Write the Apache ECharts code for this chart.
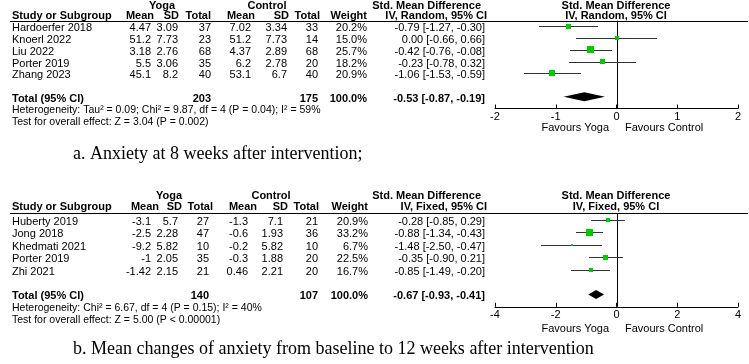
<!DOCTYPE html>
<html>
<head>
<meta charset="utf-8">
<script src="https://cdn.jsdelivr.net/npm/echarts@6/dist/echarts.min.js"></script>
<style>
html, body { margin: 0; padding: 0; background: #fff; }
#main { width: 749px; height: 364px; }
</style>
</head>
<body>
<div id="main"></div>
<script>
// ---- panel a : anxiety at 8 weeks (random effects) ----
var studiesA = ['Hardoerfer 2018', 'Knoerl 2022', 'Liu 2022', 'Porter 2019', 'Zhang 2023'];
var yogaMeanA = [4.47, 51.2, 3.18, 5.5, 45.1];
var yogaSdA = [3.09, 7.73, 2.76, 3.06, 8.2];
var yogaNA = [37, 23, 68, 35, 40];
var ctrlMeanA = [7.02, 51.2, 4.37, 6.2, 53.1];
var ctrlSdA = [3.34, 7.73, 2.89, 2.78, 6.7];
var ctrlNA = [33, 14, 68, 20, 40];
var weightA = [20.2, 15.0, 25.7, 18.2, 20.9];
var smdA = [-0.79, 0.00, -0.42, -0.23, -1.06];
var loA = [-1.27, -0.66, -0.76, -0.78, -1.53];
var hiA = [-0.30, 0.66, -0.08, 0.32, -0.59];
var totalNA = [203, 175];
var totalSmdA = [-0.53, -0.87, -0.19];
var axisA = [-2, 2, 1];
var methodA = 'IV, Random, 95% CI';
var hetA = 'Heterogeneity: Tau\u00b2 = 0.09; Chi\u00b2 = 9.87, df = 4 (P = 0.04); I\u00b2 = 59%';
var testA = 'Test for overall effect: Z = 3.04 (P = 0.002)';
var captionA = 'a. Anxiety at 8 weeks after intervention;';

// ---- panel b : change from baseline to 12 weeks (fixed effect) ----
var studiesB = ['Huberty 2019', 'Jong 2018', 'Khedmati 2021', 'Porter 2019', 'Zhi 2021'];
var yogaMeanB = [-3.1, -2.5, -9.2, -1, -1.42];
var yogaSdB = [5.7, 2.28, 5.82, 2.05, 2.15];
var yogaNB = [27, 47, 10, 35, 21];
var ctrlMeanB = [-1.3, -0.6, -0.2, -0.3, 0.46];
var ctrlSdB = [7.1, 1.93, 5.82, 1.88, 2.21];
var ctrlNB = [21, 36, 10, 20, 20];
var weightB = [20.9, 33.2, 6.7, 22.5, 16.7];
var smdB = [-0.28, -0.88, -1.48, -0.35, -0.85];
var loB = [-0.85, -1.34, -2.50, -0.90, -1.49];
var hiB = [0.29, -0.43, -0.47, 0.21, -0.20];
var totalNB = [140, 107];
var totalSmdB = [-0.67, -0.93, -0.41];
var axisB = [-4, 4, 2];
var methodB = 'IV, Fixed, 95% CI';
var hetB = 'Heterogeneity: Chi\u00b2 = 6.67, df = 4 (P = 0.15); I\u00b2 = 40%';
var testB = 'Test for overall effect: Z = 5.00 (P < 0.00001)';
var captionB = 'b. Mean changes of anxiety from baseline to 12 weeks after intervention';

// layout (pixels)
var layA = {
    rowTop: 26.3, step: 11.75, yMin: -0.48, yMax: 7,
    groupY: 5.5, headY: 16, lineY: 21, hetY: 110, testY: 122, favY: 128, capY: 154,
    yogaX: 162, ctrlX: 267,
    headX: [154, 179, 211, 255, 289, 320, 367],
    colX: [151, 178, 211, 251, 287, 318, 367, 485],
    sq: 0.27
};
var layB = {
    rowTop: 220, step: 12.4, yMin: -0.56, yMax: 7,
    groupY: 196, headY: 207, lineY: 213, hetY: 308, testY: 320.5, favY: 329, capY: 349,
    yogaX: 169, ctrlX: 271,
    headX: [159, 182, 213, 257, 288, 319, 368],
    colX: [151, 178, 209, 248, 283, 318, 368, 485],
    sq: 0.21
};

var plotLeft = 495, plotWidth = 243;
var SANS = '"Liberation Sans", Arial, sans-serif';

function txt(x, y, s, align, bold, size) {
    return {
        type: 'text', x: x, y: y, silent: true,
        style: {
            text: s, textAlign: align, textVerticalAlign: 'middle',
            font: (bold ? 'bold ' : '') + (size || 11) + 'px ' + SANS,
            fill: '#000'
        }
    };
}

function ci(e, l, h) {
    return e.toFixed(2) + ' [' + l.toFixed(2) + ', ' + h.toFixed(2) + ']';
}

var graphics = [];
var grids = [], xAxes = [], yAxes = [], series = [];

function buildPanel(idx, lay, d) {
    var rowY = function (i) { return lay.rowTop + i * lay.step + 2; };

    // header
    graphics.push(txt(lay.yogaX, lay.groupY, 'Yoga', 'center', true));
    graphics.push(txt(lay.ctrlX, lay.groupY, 'Control', 'center', true));
    graphics.push(txt(481, lay.groupY, 'Std. Mean Difference', 'right', true));
    graphics.push(txt(616, lay.groupY, 'Std. Mean Difference', 'center', true));
    graphics.push(txt(12, lay.headY, 'Study or Subgroup', 'left', true));
    var heads = ['Mean', 'SD', 'Total', 'Mean', 'SD', 'Total', 'Weight'];
    heads.forEach(function (h, k) {
        graphics.push(txt(lay.headX[k], lay.headY, h, 'right', true));
    });
    graphics.push(txt(487, lay.headY, d.method, 'right', true));
    graphics.push(txt(616, lay.headY, d.method, 'center', true));
    graphics.push({
        type: 'line', silent: true,
        shape: { x1: 10, y1: Math.floor(lay.lineY) + 0.5, x2: 748, y2: Math.floor(lay.lineY) + 0.5 },
        style: { stroke: '#000', lineWidth: 1 }
    });

    // study rows
    d.studies.forEach(function (name, i) {
        var y = rowY(i);
        var cells = [d.yMean[i], d.ySd[i], d.yN[i], d.cMean[i], d.cSd[i], d.cN[i]];
        graphics.push(txt(12, y, name, 'left', false));
        cells.forEach(function (v, k) {
            graphics.push(txt(lay.colX[k], y, String(v), 'right', false));
        });
        graphics.push(txt(lay.colX[6], y, d.weight[i].toFixed(1) + '%', 'right', false));
        graphics.push(txt(lay.colX[7], y, ci(d.smd[i], d.lo[i], d.hi[i]), 'right', false));
    });

    // total row
    var ty = rowY(6);
    graphics.push(txt(12, ty, 'Total (95% CI)', 'left', true));
    graphics.push(txt(lay.colX[2], ty, String(d.totalN[0]), 'right', true));
    graphics.push(txt(lay.colX[5], ty, String(d.totalN[1]), 'right', true));
    graphics.push(txt(lay.colX[6], ty, '100.0%', 'right', true));
    graphics.push(txt(lay.colX[7], ty, ci(d.total[0], d.total[1], d.total[2]), 'right', true));

    graphics.push(txt(12, lay.hetY, d.het, 'left', false, 10.5));
    graphics.push(txt(12, lay.testY, d.test, 'left', false, 10.5));

    graphics.push(txt(609, lay.favY, 'Favours Yoga', 'right', false));
    graphics.push(txt(625, lay.favY, 'Favours Control', 'left', false));

    graphics.push({
        type: 'text', x: 73, y: lay.capY, silent: true,
        style: {
            text: d.caption, textAlign: 'left', textVerticalAlign: 'middle',
            font: '18px "Liberation Serif", "Times New Roman", serif', fill: '#000'
        }
    });

    // plot area
    grids.push({
        left: plotLeft, width: plotWidth,
        top: lay.rowTop + lay.yMin * lay.step,
        height: (lay.yMax - lay.yMin) * lay.step,
        containLabel: false, outerBoundsMode: 'none'
    });
    xAxes.push({
        gridIndex: idx, type: 'value',
        min: d.axis[0], max: d.axis[1], interval: d.axis[2],
        axisLine: { show: true, onZero: false, lineStyle: { color: '#000', width: 1 } },
        axisTick: { show: true, inside: true, length: 4, lineStyle: { color: '#000' } },
        axisLabel: { color: '#000', fontSize: 11, fontFamily: SANS, margin: 3 },
        splitLine: { show: false }
    });
    yAxes.push({
        gridIndex: idx, type: 'value', inverse: true,
        min: lay.yMin, max: lay.yMax, show: false
    });

    var studyData = d.smd.map(function (v, i) {
        return [v, d.lo[i], d.hi[i], i, d.weight[i]];
    });

    // zero line
    series.push({
        type: 'custom', xAxisIndex: idx, yAxisIndex: idx, silent: true, animation: false,
        data: [[0, lay.yMin, lay.yMax]],
        encode: { x: 0, y: [1, 2] },
        renderItem: function (params, api) {
            var a = api.coord([api.value(0), api.value(1)]);
            var b = api.coord([api.value(0), api.value(2)]);
            var x = Math.round(a[0]) + 0.5;
            return {
                type: 'line',
                shape: { x1: x, y1: a[1], x2: x, y2: b[1] },
                style: { stroke: '#000', lineWidth: 1 }
            };
        }
    });

    // study CI lines + weighted squares
    series.push({
        type: 'custom', xAxisIndex: idx, yAxisIndex: idx, silent: true, animation: false,
        data: studyData,
        encode: { x: [0, 1, 2], y: 3 },
        renderItem: function (params, api) {
            var row = api.value(3);
            var c = api.coord([api.value(0), row]);
            var l = api.coord([api.value(1), row]);
            var h = api.coord([api.value(2), row]);
            var y = Math.round(c[1]) + 0.5;
            var s = Math.max(2, Math.round(api.value(4) * lay.sq));
            return {
                type: 'group',
                children: [{
                    type: 'line',
                    shape: { x1: Math.round(l[0]), y1: y, x2: Math.round(h[0]), y2: y },
                    style: { stroke: '#333', lineWidth: 1 }
                }, {
                    type: 'rect',
                    shape: { x: Math.round(c[0] - s / 2), y: Math.round(c[1] - s / 2), width: s, height: s },
                    style: { fill: '#00cc00' }
                }]
            };
        }
    });

    // pooled diamond
    series.push({
        type: 'custom', xAxisIndex: idx, yAxisIndex: idx, silent: true, animation: false,
        data: [[d.total[0], d.total[1], d.total[2], 6]],
        encode: { x: [0, 1, 2], y: 3 },
        renderItem: function (params, api) {
            var row = api.value(3);
            var c = api.coord([api.value(0), row]);
            var l = api.coord([api.value(1), row]);
            var h = api.coord([api.value(2), row]);
            return {
                type: 'polygon',
                shape: { points: [[l[0], c[1]], [c[0], c[1] - 4.5], [h[0], c[1]], [c[0], c[1] + 4.5]] },
                style: { fill: '#000' }
            };
        }
    });
}

buildPanel(0, layA, {
    studies: studiesA, yMean: yogaMeanA, ySd: yogaSdA, yN: yogaNA,
    cMean: ctrlMeanA, cSd: ctrlSdA, cN: ctrlNA, weight: weightA,
    smd: smdA, lo: loA, hi: hiA, totalN: totalNA, total: totalSmdA,
    axis: axisA, method: methodA, het: hetA, test: testA, caption: captionA
});
buildPanel(1, layB, {
    studies: studiesB, yMean: yogaMeanB, ySd: yogaSdB, yN: yogaNB,
    cMean: ctrlMeanB, cSd: ctrlSdB, cN: ctrlNB, weight: weightB,
    smd: smdB, lo: loB, hi: hiB, totalN: totalNB, total: totalSmdB,
    axis: axisB, method: methodB, het: hetB, test: testB, caption: captionB
});

var chart = echarts.init(document.getElementById('main'), null, { renderer: 'canvas' });
chart.setOption({
    backgroundColor: '#fff',
    animation: false,
    grid: grids,
    xAxis: xAxes,
    yAxis: yAxes,
    series: series,
    graphic: { elements: graphics }
});
</script>
</body>
</html>
